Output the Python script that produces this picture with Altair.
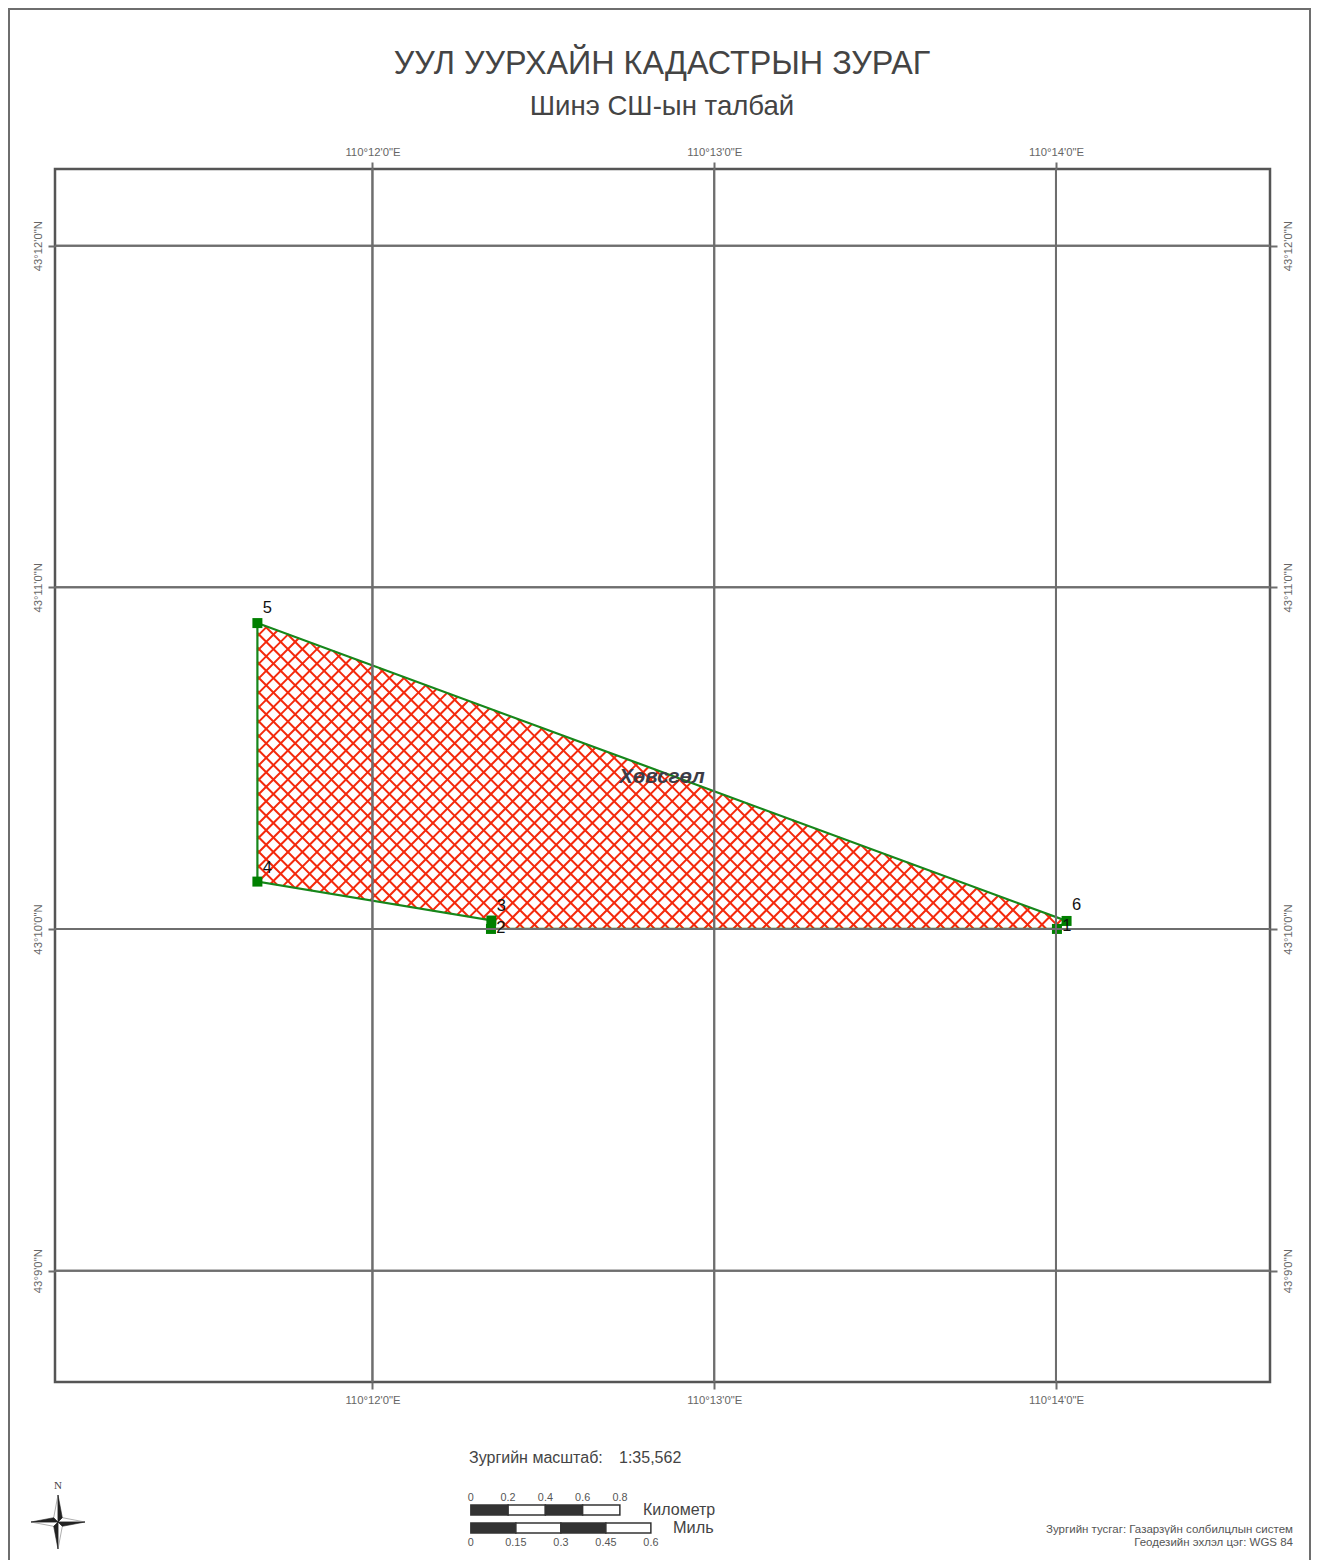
import altair as alt
import pandas as pd

# ---- map data (decimal degrees) ----
lon_ticks = [110.2, 110.216667, 110.233333]
lat_ticks = [43.15, 43.166667, 43.183333, 43.2]
lon_domain = [110.18452, 110.24377]
lat_domain = [43.14457, 43.20374]

point_ids = ["1", "2", "3", "4", "5", "6"]
point_lon = [110.23338, 110.20578, 110.20580, 110.19439, 110.19439, 110.23385]
point_lat = [43.16667, 43.16667, 43.16708, 43.16898, 43.18159, 43.16706]

place_name = ["Хөвсгөл"]
place_lon = [110.21412]
place_lat = [43.17408]

main_title = "УУЛ УУРХАЙН КАДАСТРЫН ЗУРАГ"
sub_title = "Шинэ СШ-ын талбай"
scale_label = "Зургийн масштаб:"
scale_value = "1:35,562"
km_ticks = [0, 0.2, 0.4, 0.6, 0.8]
mile_ticks = [0, 0.15, 0.3, 0.45, 0.6]
km_label = "Километр"
mile_label = "Миль"
note_lines = ["Зургийн тусгаг: Газарзүйн солбилцлын систем", "Геодезийн эхлэл цэг: WGS 84"]

# ---- layout (plot area sits at page x=55, y=169) ----
W, H = 1215, 1213
FONT = "Liberation Sans"
TXT = "#444444"
GRID = "#6e6e6e"
px = lambda x: x - 55
py = lambda y: y - 169

X_SCALE = alt.Scale(domain=lon_domain, zero=False, nice=False)
Y_SCALE = alt.Scale(domain=lat_domain, zero=False, nice=False)
LON_EXPR = r'''floor(datum.value)+"°"+round((datum.value-floor(datum.value))*60)+"'0\"E"'''
LAT_EXPR = r'''floor(datum.value)+"°"+round((datum.value-floor(datum.value))*60)+"'0\"N"'''
AX = dict(grid=False, domain=False, title=None, tickSize=7, tickColor=GRID, tickWidth=2,
          labelFont=FONT, labelFontSize=11.3, labelColor="#666666", labelPadding=5)


def x_plain(field, **kw):
    return alt.X(field, type="quantitative", scale=X_SCALE, axis=None, **kw)


def y_plain(field, **kw):
    return alt.Y(field, type="quantitative", scale=Y_SCALE, axis=None, **kw)


# ---- hatch: the fill texture of the polygon, clipped to its outline ----
ring_x = [(v - 110) * 60 for v in point_lon]
ring_y = [(v - 43) * 60 for v in point_lat]
STEP = 14.5 / 341.75


def hatch(sign):
    rows = []
    n = len(ring_x)
    vals = [ring_y[i] - sign * ring_x[i] for i in range(n)]
    c = min(vals) - (min(vals) % STEP)
    while c <= max(vals):
        hits = []
        for i in range(n):
            j = (i + 1) % n
            a, b = vals[i] - c, vals[j] - c
            if (a < 0) != (b < 0):
                t = a / (a - b)
                hits.append((ring_x[i] + t * (ring_x[j] - ring_x[i]),
                             ring_y[i] + t * (ring_y[j] - ring_y[i])))
        hits.sort()
        for k in range(0, len(hits) - 1, 2):
            rows.append({"x": 110 + hits[k][0] / 60, "y": 43 + hits[k][1] / 60,
                         "x2": 110 + hits[k + 1][0] / 60, "y2": 43 + hits[k + 1][1] / 60})
        c += STEP
    return rows


hatch_df = pd.DataFrame(hatch(1) + hatch(-1))
hatch_layer = alt.Chart(hatch_df).mark_rule(color="#f4290c", strokeWidth=2).encode(
    x=x_plain("x"), x2="x2", y=y_plain("y"), y2="y2")

# ---- outline and vertices ----
pts = pd.DataFrame({"id": point_ids, "lon": point_lon, "lat": point_lat})
ring = pd.DataFrame({"lon": point_lon + point_lon[:1], "lat": point_lat + point_lat[:1],
                     "o": list(range(len(point_lon) + 1))})
outline = alt.Chart(ring).mark_line(color="#16871a", strokeWidth=2.2).encode(
    x=x_plain("lon"), y=y_plain("lat"), order="o:Q")
squares = alt.Chart(pts).mark_point(shape="square", filled=True, size=100, color="#008000", opacity=1).encode(
    x=x_plain("lon"), y=y_plain("lat"))

# ---- grid + axes ----
lon_df = pd.DataFrame({"v": lon_ticks})
lat_df = pd.DataFrame({"v": lat_ticks})
rule = dict(color=GRID, strokeWidth=2)
grid_bottom = alt.Chart(lon_df).mark_rule(**rule).encode(
    x=alt.X("v:Q", scale=X_SCALE, axis=alt.Axis(orient="bottom", values=lon_ticks, labelExpr=LON_EXPR, **AX)))
grid_top = alt.Chart(lon_df).mark_rule(**rule).encode(
    x=alt.X("v:Q", scale=X_SCALE, axis=alt.Axis(orient="top", values=lon_ticks, labelExpr=LON_EXPR, **AX)))
grid_left = alt.Chart(lat_df).mark_rule(**rule).encode(
    y=alt.Y("v:Q", scale=Y_SCALE, axis=alt.Axis(orient="left", values=lat_ticks, labelExpr=LAT_EXPR,
                                                labelAngle=270, labelAlign="center", labelBaseline="bottom", **AX)))
grid_right = alt.Chart(lat_df).mark_rule(**rule).encode(
    y=alt.Y("v:Q", scale=Y_SCALE, axis=alt.Axis(orient="right", values=lat_ticks, labelExpr=LAT_EXPR,
                                                labelAngle=270, labelAlign="center", labelBaseline="top", **AX)))

# ---- vertex labels, each with its own offset from the square ----
offsets = {"5": (10, -15), "4": (10, -14), "3": (10, -15), "2": (10, -1), "1": (10, -3), "6": (10, -16)}
vertex_labels = [
    alt.Chart(pts[pts.id == k]).mark_text(font=FONT, fontSize=16.5, color="#111111", dx=d[0], dy=d[1]).encode(
        x=x_plain("lon"), y=y_plain("lat"), text="id:N")
    for k, d in offsets.items()
]
place = alt.Chart(pd.DataFrame({"n": place_name, "lon": place_lon, "lat": place_lat})).mark_text(
    font=FONT, fontSize=20.5, fontStyle="italic", fontWeight="bold", color="#3c3c46").encode(
    x=x_plain("lon"), y=y_plain("lat"), text="n:N")


# ---- page furniture ----
def label(text, x, y, size, align="center", color=TXT, font=FONT):
    return alt.Chart(pd.DataFrame({"t": [text]})).mark_text(
        font=font, fontSize=size, align=align, baseline="middle", color=color).encode(
        x=alt.value(px(x)), y=alt.value(py(y)), text="t:N")


def frame(x, y, x2, y2):
    return alt.Chart(pd.DataFrame({"a": [0]})).mark_rule(color=GRID, strokeWidth=2).encode(
        x=alt.value(px(x)), y=alt.value(py(y)), x2=alt.value(px(x2)), y2=alt.value(py(y2)))


BAR_LON = 110.20480
DEG_KM = 0.009083
DEG_MI = 0.01463


def scale_bar(ticks, deg, top, bottom, label_y):
    ends = [BAR_LON + t * deg for t in ticks]
    df = pd.DataFrame({"a": ends[:-1], "b": ends[1:],
                       "c": ["#333333" if i % 2 == 0 else "#ffffff" for i in range(len(ends) - 1)]})
    bars = alt.Chart(df).mark_rect(stroke="#333333", strokeWidth=1.5).encode(
        x=x_plain("a"), x2="b", y=alt.value(py(top)), y2=alt.value(py(bottom)),
        color=alt.Color("c:N", scale=None))
    labels = alt.Chart(pd.DataFrame({"lon": ends, "t": [str(t) for t in ticks]})).mark_text(
        font=FONT, fontSize=10.8, color="#555555").encode(
        x=x_plain("lon"), y=alt.value(py(label_y)), text="t:N")
    return [bars, labels]


# compass star: custom unit-square paths
STAR_DARK = "M0,-1L0.16,-0.16L0,0ZM1,0L0.16,0.16L0,0ZM0,1L-0.16,0.16L0,0ZM-1,0L-0.16,-0.16L0,0Z"
STAR_LITE = "M0,-1L-0.16,-0.16L0,0ZM1,0L0.16,-0.16L0,0ZM0,1L0.16,0.16L0,0ZM-1,0L-0.16,0.16L0,0Z"


def star(path, fill, stroke):
    return alt.Chart(pd.DataFrame({"a": [0]})).mark_point(
        shape=path, size=2916, filled=True, fill=fill, stroke=stroke, strokeWidth=0.6, opacity=1).encode(
        x=alt.value(px(58)), y=alt.value(py(1522)))


layers = [hatch_layer, outline, squares, grid_bottom, grid_top, grid_left, grid_right]
layers += vertex_labels + [place]
layers += [frame(9, 6, 9, 1560), frame(9, 9, 1310, 9), frame(1310, 6, 1310, 1560)]
layers += [
    label(main_title, 662, 64, 32.3),
    label(sub_title, 662, 107, 27.6),
    label(scale_label, 469, 1458, 16, "left"),
    label(scale_value, 619, 1458, 16, "left"),
    label(km_label, 643, 1510, 16, "left"),
    label(mile_label, 673, 1528, 16.3, "left"),
    label(note_lines[0], 1293, 1530, 11.5, "right", "#555555"),
    label(note_lines[1], 1293, 1543, 11.5, "right", "#555555"),
    label("N", 58, 1486, 11, "center", "#444444", "Liberation Serif"),
    star(STAR_LITE, "#ffffff", "#777777"),
    star(STAR_DARK, "#222222", "#222222"),
]
layers += scale_bar(km_ticks, DEG_KM, 1505, 1515, 1498)
layers += scale_bar(mile_ticks, DEG_MI, 1523, 1533, 1543)

chart = alt.layer(*layers).resolve_axis(x="independent", y="independent").properties(
    width=W, height=H,
    padding={"left": 47, "top": 161, "right": 41, "bottom": 178},
    autosize=alt.AutoSizeParams(type="none"),
    background="#ffffff",
).configure_view(stroke="#555555", strokeWidth=2.5)

chart.save("out.html", embed_options={"renderer": "svg", "actions": False})
